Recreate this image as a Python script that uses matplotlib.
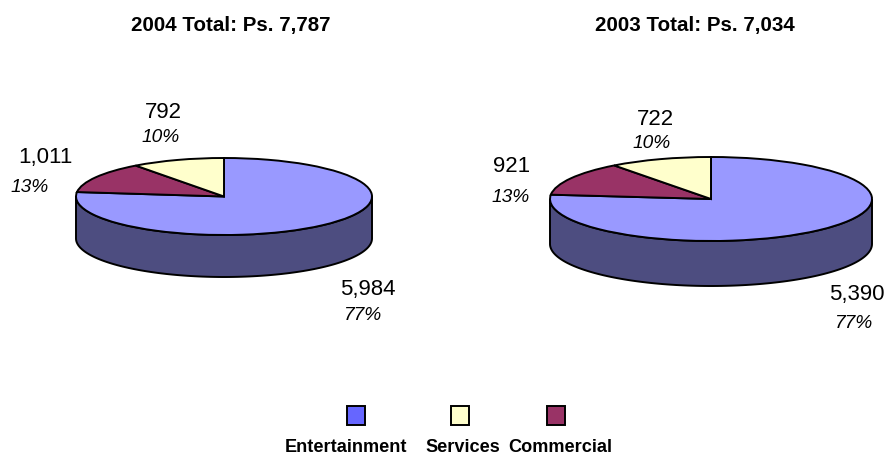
import numpy as np
from matplotlib import pyplot as plt
from matplotlib.patches import Rectangle

plt.rcParams['font.family'] = ['Liberation Sans', 'DejaVu Sans']

W, H = 886, 456

# Dados (ordem horaria a partir do topo)
categorias = ['Entertainment', 'Commercial', 'Services']
valores_2004 = [5984, 1011, 792]
valores_2003 = [5390, 921, 722]
rotulos_2004 = ['5,984', '1,011', '792']
rotulos_2003 = ['5,390', '921', '722']
pct_2004 = ['77%', '13%', '10%']
pct_2003 = ['77%', '13%', '10%']
titulo_2004 = '2004 Total: Ps. 7,787'
titulo_2003 = '2003 Total: Ps. 7,034'
legenda = ['Entertainment', 'Services', 'Commercial']

cores = ['#9999FF', '#993366', '#FFFFCC']
cor_lateral = '#4D4D80'
cores_legenda = {'Entertainment': '#6666FF', 'Services': '#FFFFCC', 'Commercial': '#993366'}

fig = plt.figure(figsize=(W / 100, H / 100), dpi=100)


def pizza(valores, x0, x1, topo, base, fundo):
    # eixo em pixels: elipse de topo..base, lateral ate fundo
    altura = fundo - topo
    ax = fig.add_axes([x0 / W, 1 - fundo / H, (x1 - x0) / W, altura / H])
    prof = 2 * (fundo - base) / (base - topo)
    # lateral
    t = np.radians(np.linspace(180, 360, 120))
    xs = np.concatenate([np.cos(t), np.cos(t[::-1])])
    ys = np.concatenate([np.sin(t), np.sin(t[::-1]) - prof])
    ax.fill(xs, ys, facecolor=cor_lateral, edgecolor='black', linewidth=1.4, clip_on=False)
    wedges, _ = ax.pie(valores, colors=cores, startangle=90, counterclock=False,
                       wedgeprops={'edgecolor': 'black', 'linewidth': 1.4})
    for w in wedges:
        w.set_clip_on(False)
    ax.set_aspect('auto')
    ax.set_xlim(-1, 1)
    ax.set_ylim(-1 - prof, 1)
    ax.axis('off')


def texto(x, y, s, **kw):
    fig.text(x / W, 1 - y / H, s, ha='center', va='center', color='black', **kw)


pizza(valores_2004, 76, 372, 159, 236, 278)
pizza(valores_2003, 550, 872, 158, 242, 287)

texto(230.5, 25, titulo_2004, fontsize=14.8, fontweight='bold')
texto(695, 25, titulo_2003, fontsize=14.8, fontweight='bold')

# Rotulos: Entertainment, Commercial, Services
pos_val_2004 = [(367.5, 289), (45, 158), (163, 113)]
pos_pct_2004 = [(362, 316), (30, 187), (160.5, 138)]
pos_val_2003 = [(857, 295), (512, 167), (655, 120)]
pos_pct_2003 = [(853, 324), (511, 197), (652, 143)]

for s, p in zip(rotulos_2004, pos_val_2004):
    texto(p[0], p[1], s, fontsize=16)
for s, p in zip(pct_2004, pos_pct_2004):
    texto(p[0], p[1], s, fontsize=13.8, style='italic')
for s, p in zip(rotulos_2003, pos_val_2003):
    texto(p[0], p[1], s, fontsize=16)
for s, p in zip(pct_2003, pos_pct_2003):
    texto(p[0], p[1], s, fontsize=13.8, style='italic')

# Legenda
x_caixa = [355.5, 459.5, 555.5]
x_texto = [345.5, 462.5, 560]
for nome, xc, xt in zip(legenda, x_caixa, x_texto):
    fig.add_artist(Rectangle(((xc - 9) / W, 1 - 426 / H), 18 / W, 19 / H,
                             transform=fig.transFigure,
                             facecolor=cores_legenda[nome], edgecolor='black', linewidth=1.4))
    texto(xt, 447.5, nome, fontsize=13.1, fontweight='bold')

plt.savefig('out.png', dpi=100)
